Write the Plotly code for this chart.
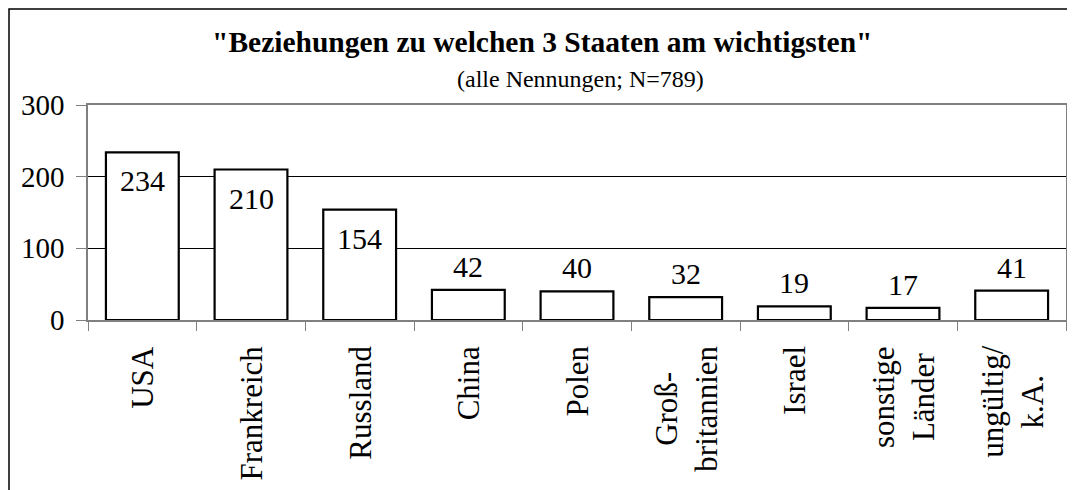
import plotly.graph_objects as go

categories = ["USA", "Frankreich", "Russland", "China", "Polen",
              "Groß-<br>britannien", "Israel", "sonstige<br>Länder", "ungültig/<br>k.A."]
values = [234, 210, 154, 42, 40, 32, 19, 17, 41]
y_ticks = [0, 100, 200, 300]

title_text = '<b>"Beziehungen zu welchen 3 Staaten am wichtigsten"</b>'
subtitle_text = "(alle Nennungen; N=789)"

FONT = "Liberation Serif"
OFF = 8  # default page body margin
W, H = 1075 - OFF, 490 - OFF
# plot area in page pixels: x 88..1066, y 105..320
L, T = 88 - OFF, 105 - OFF
R = W - (1066 - OFF)
B = H - (320 - OFF)
pw = W - L - R
ph = H - T - B

fig = go.Figure()
fig.add_trace(go.Bar(
    x=categories, y=values,
    marker=dict(color="white", line=dict(color="black", width=2.2)),
    width=0.67, hoverinfo="x+y",
))

annotations = []
for c, v in zip(categories, values):
    inside = v > 100
    annotations.append(dict(
        x=c, y=v, xref="x", yref="y", text=str(v), showarrow=False,
        yanchor="top" if inside else "bottom",
        yshift=-10 if inside else 5,
        font=dict(family=FONT, size=30, color="black"),
    ))

# category labels (rotated, centred lines)
for c in categories:
    annotations.append(dict(
        x=c, y=0, xref="x", yref="paper", text=c, showarrow=False,
        textangle=-90, align="center", xanchor="center", yanchor="top",
        yshift=-24,
        font=dict(family=FONT, size=31, color="black"),
    ))

def px_x(px):  # page px -> paper
    return (px - OFF - L) / pw

def px_y(py):
    return (H - B - (py - OFF)) / ph

annotations.append(dict(
    x=px_x(542), y=px_y(53), xref="paper", yref="paper",
    text=title_text, showarrow=False, xanchor="center", yanchor="bottom",
    yshift=-7, font=dict(family=FONT, size=29.5, color="black"),
))
annotations.append(dict(
    x=px_x(580), y=px_y(88), xref="paper", yref="paper",
    text=subtitle_text, showarrow=False, xanchor="center", yanchor="bottom",
    yshift=-6, font=dict(family=FONT, size=24, color="black"),
))

shapes = [dict(
    type="rect", xref="paper", yref="paper",
    x0=px_x(9), x1=px_x(1090),
    y0=px_y(520), y1=px_y(9),
    line=dict(color="black", width=1.5), fillcolor="rgba(0,0,0,0)",
    layer="below",
)]

fig.update_layout(
    width=W, height=H,
    margin=dict(l=L, r=R, t=T, b=B, pad=0, autoexpand=False),
    paper_bgcolor="white", plot_bgcolor="white",
    showlegend=False,
    bargap=0.33,
    annotations=annotations,
    shapes=shapes,
    font=dict(family=FONT, color="black"),
)
fig.update_xaxes(
    type="category", tickson="boundaries", automargin=False,
    ticks="outside", ticklen=9, tickcolor="#808080", tickwidth=1,
    showticklabels=False,
    showline=True, linecolor="#808080", linewidth=1.5, mirror=True,
    showgrid=False,
)
fig.update_yaxes(
    range=[0, 300], tickvals=y_ticks, automargin=False,
    ticks="outside", ticklen=10, tickcolor="#808080", tickwidth=1,
    tickfont=dict(family=FONT, size=29, color="black"),
    ticklabelstandoff=6,
    showline=True, linecolor="#808080", linewidth=1.5, mirror=True,
    showgrid=True, gridcolor="black", gridwidth=1,
    zeroline=False,
)

fig.write_html("out.html")
